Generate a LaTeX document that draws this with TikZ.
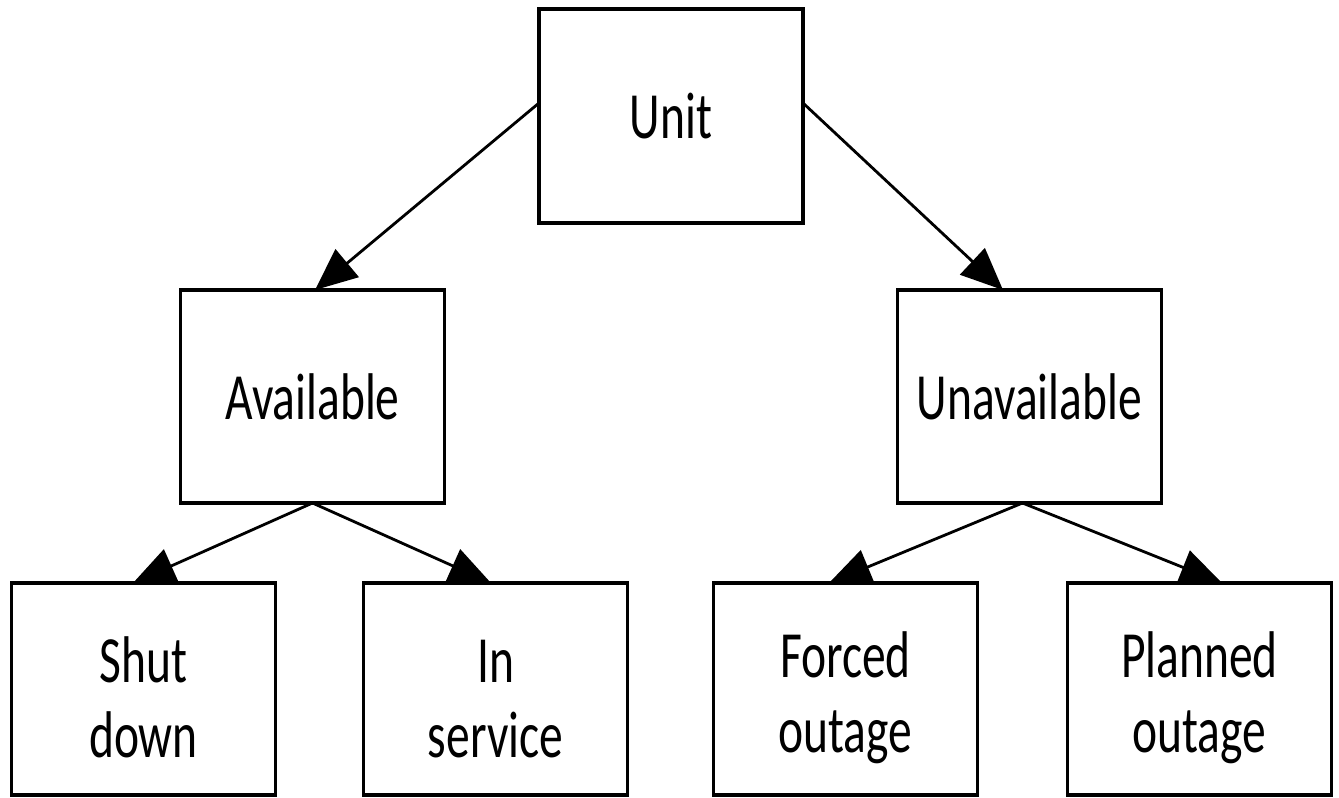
\documentclass[tikz,border=0pt]{standalone}
\usepackage{fontspec}
\setmainfont{Carlito}[FakeStretch=0.72]
\usetikzlibrary{arrows.meta}
\newcommand\lnstrut{\rule{0pt}{63pt}}
\begin{document}
\begin{tikzpicture}[x=1pt,y=-1pt,
  box/.style={draw=black, line width=3.5pt, rectangle, minimum width=264pt,
    minimum height=213pt, inner sep=0pt, outer sep=0pt, align=center,
    font=\fontsize{66}{75}\selectfont},
  conn/.style={line width=2.8pt, -{Triangle[length=42pt,width=36pt]}}]
\useasboundingbox (0,0) rectangle (1339,798);
\node[box, minimum height=214pt] (unit) at (671,116) {Unit};
\node[box] (avail) at (312.5,396.5) {Available};
\node[box] (unavail) at (1029.5,396.5) {Unavailable};
\node[box, minimum height=212pt] (shut) at (143.5,689) {\lnstrut Shut\\down};
\node[box, minimum height=212pt] (insvc) at (495.5,689) {\lnstrut In\\service};
\node[box, minimum height=212pt] (forced) at (845.5,689) {\lnstrut Forced\\outage};
\node[box, minimum height=212pt] (planned) at (1199.5,689) {\lnstrut Planned\\outage};
\draw[conn] ([yshift=13pt]unit.west) -- ([xshift=2.5pt]avail.north);
\draw[conn] ([yshift=13pt]unit.east) -- ([xshift=-26.5pt]unavail.north);
\draw[conn] (avail.south) -- ([xshift=-10.5pt]shut.north);
\draw[conn] (avail.south) -- ([xshift=-4.5pt]insvc.north);
\draw[conn] ([xshift=-7pt]unavail.south) -- ([xshift=-16.5pt]forced.north);
\draw[conn] ([xshift=-7pt]unavail.south) -- ([xshift=22.5pt]planned.north);
\end{tikzpicture}
\end{document}
